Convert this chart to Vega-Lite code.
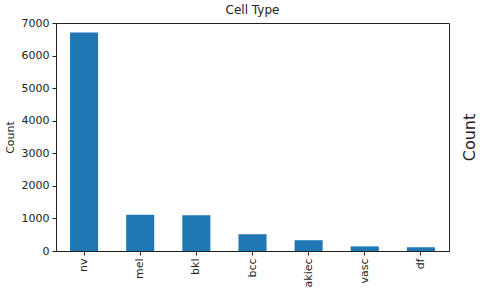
{
  "$schema": "https://vega.github.io/schema/vega-lite/v6.json",
  "width": 393,
  "height": 228,
  "autosize": {"type": "none"},
  "padding": {"left": 56, "top": 23, "right": 31, "bottom": 45},
  "background": "white",
  "config": {
    "font": "DejaVu Sans",
    "view": {"stroke": "#222222", "strokeWidth": 1},
    "axis": {
      "labelFont": "DejaVu Sans",
      "titleFont": "DejaVu Sans",
      "labelFontSize": 11,
      "titleFontSize": 11,
      "titleFontWeight": "normal",
      "labelColor": "#222222",
      "titleColor": "#222222",
      "domainColor": "#222222",
      "tickColor": "#222222",
      "tickSize": 4,
      "grid": false
    }
  },
  "title": {
    "text": "Cell Type",
    "font": "DejaVu Sans",
    "fontSize": 12,
    "fontWeight": "normal",
    "color": "#222222",
    "offset": 0
  },
  "data": {
    "values": [
      {"type": "nv", "count": 6705},
      {"type": "mel", "count": 1113},
      {"type": "bkl", "count": 1099},
      {"type": "bcc", "count": 514},
      {"type": "akiec", "count": 327},
      {"type": "vasc", "count": 142},
      {"type": "df", "count": 115}
    ]
  },
  "layer": [
    {
      "mark": {"type": "bar", "color": "#1f77b4"},
      "encoding": {
        "x": {
          "field": "type",
          "type": "nominal",
          "sort": null,
          "scale": {"paddingInner": 0.5, "paddingOuter": 0.25},
          "axis": {"title": null, "labelAngle": -90, "labelPadding": 3}
        },
        "y": {
          "field": "count",
          "type": "quantitative",
          "scale": {"domain": [0, 7000], "nice": false},
          "axis": {"title": "Count", "format": "d", "values": [0,1000,2000,3000,4000,5000,6000,7000], "labelPadding": 3, "titlePadding": 6}
        }
      }
    },
    {
      "mark": {"type": "rule", "opacity": 0},
      "encoding": {
        "y": {
          "datum": 0,
          "type": "quantitative",
          "axis": {
            "orient": "right",
            "title": "Count",
            "titleFontSize": 16,
            "titleAngle": -90,
            "titleX": 20,
            "titleY": 114,
            "titleBaseline": "middle",
            "titleAlign": "center",
            "labels": false,
            "ticks": false,
            "domain": false
          }
        }
      }
    }
  ],
  "resolve": {"scale": {"y": "independent"}}
}
